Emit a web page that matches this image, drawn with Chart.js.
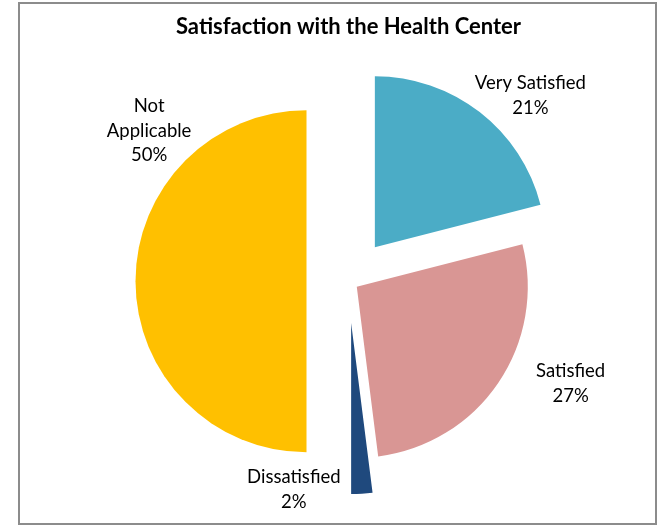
<!DOCTYPE html>
<html>
<head>
<meta charset="utf-8">
<script src="https://cdn.jsdelivr.net/npm/chart.js@4"></script>
<style>
  body { margin: 0; background: #fff; }
  #frame {
    position: absolute; left: 18px; top: 2px; width: 639px; height: 523px;
    border: 2px solid #8c8c8c; box-sizing: border-box;
  }
  #wrap { position: absolute; left: 0; top: 0; width: 666px; height: 526px; }
</style>
</head>
<body>
<div id="frame"></div>
<div id="wrap"><canvas id="myChart" width="666" height="526"></canvas></div>
<script>
// data
var categories = ["Very Satisfied", "Satisfied", "Dissatisfied", "Not Applicable"];
var shares = [21, 27, 2, 50];

// styling
var colors = ["#4BACC6", "#D99694", "#1F497D", "#FFC000"];
var explode = [43, 10, 42, 42];
// label placement: angle from top (deg) and distance as a multiple of the radius
var labelAngle = [44.4, 114.7, 194.7, 307];
var labelDist = [1.52, 1.43, 1.26, 1.46];
var labelLines = [["Very Satisfied"], ["Satisfied"], ["Dissatisfied"], ["Not", "Applicable"]];

var explodePlugin = {
  id: "explode",
  afterDatasetsUpdate: function (chart) {
    var meta = chart.getDatasetMeta(0);
    meta.data.forEach(function (arc, i) {
      var mid = (arc.startAngle + arc.endAngle) / 2;
      arc.x += Math.cos(mid) * explode[i];
      arc.y += Math.sin(mid) * explode[i];
    });
  }
};

var labelPlugin = {
  id: "pieLabels",
  afterDraw: function (chart) {
    var ctx = chart.ctx;
    var area = chart.chartArea;
    var cx = (area.left + area.right) / 2;
    var cy = (area.top + area.bottom) / 2;
    var meta = chart.getDatasetMeta(0);
    ctx.save();
    ctx.fillStyle = "#000";
    ctx.font = "18.5px Lato";
    ctx.textAlign = "center";
    ctx.textBaseline = "middle";
    meta.data.forEach(function (arc, i) {
      var a = labelAngle[i] * Math.PI / 180;
      var r = arc.outerRadius * labelDist[i];
      var x = cx + Math.sin(a) * r;
      var y = cy - Math.cos(a) * r;
      var lines = labelLines[i].concat([shares[i] + "%"]);
      var lh = 24.5;
      var y0 = y - (lines.length - 1) * lh / 2;
      lines.forEach(function (t, k) {
        ctx.fillText(t, x, y0 + k * lh);
      });
    });
    ctx.restore();
  }
};

var ctx = document.getElementById("myChart");
var chart = new Chart(ctx, {
  type: "pie",
  data: {
    labels: categories,
    datasets: [
      {
        data: shares,
        backgroundColor: colors,
        borderWidth: 0
      }
    ]
  },
  options: {
    responsive: false,
    animation: false,
    events: [],
    radius: 171,
    layout: { padding: { left: 31, right: 0, top: 0, bottom: 11.6 } },
    plugins: {
      legend: { display: false },
      tooltip: { enabled: false },
      title: {
        display: true,
        text: "Satisfaction with the Health Center",
        color: "#000",
        font: { family: "Lato", size: 22, weight: "bold", lineHeight: 1 },
        padding: { top: 16, bottom: 10 }
      }
    }
  },
  plugins: [explodePlugin, labelPlugin]
});
</script>
</body>
</html>
